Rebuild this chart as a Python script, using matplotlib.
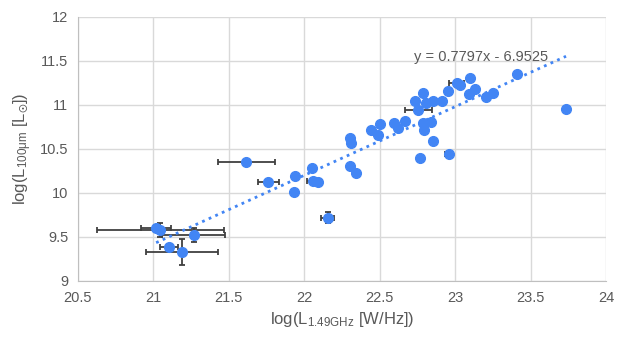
import numpy as np
import matplotlib.pyplot as plt

plt.rcParams['font.family'] = ['Liberation Sans', 'DejaVu Sans']
plt.rcParams['mathtext.fontset'] = 'custom'
plt.rcParams['mathtext.rm'] = 'Liberation Sans'
plt.rcParams['mathtext.it'] = 'Liberation Sans:italic'
plt.rcParams['mathtext.fallback'] = 'stixsans'

# radio luminosity vs far-IR luminosity (log), with x/y uncertainties
log_radio = [21.018, 21.046, 21.267, 21.106, 21.19, 21.616, 21.76, 21.94,
             21.93, 22.05, 22.06, 22.09, 22.154, 22.30, 22.31, 22.30, 22.34,
             22.44, 22.50, 22.49, 22.596, 22.618, 22.67, 22.735, 22.757,
             22.786, 22.81, 22.856, 22.916, 22.95, 22.786, 22.795, 22.84,
             22.856, 22.77, 22.956, 23.01, 23.03, 23.10, 23.095, 23.13,
             23.205, 23.25, 23.41, 23.735]
log_fir = [9.60, 9.58, 9.52, 9.39, 9.33, 10.35, 10.125, 10.19,
           10.01, 10.28, 10.14, 10.13, 9.72, 10.62, 10.57, 10.31, 10.23,
           10.72, 10.78, 10.66, 10.79, 10.735, 10.82, 11.04, 10.94,
           11.14, 11.02, 11.05, 11.05, 11.16, 10.80, 10.72, 10.81,
           10.59, 10.40, 10.44, 11.25, 11.23, 11.31, 11.13, 11.18,
           11.09, 11.14, 11.35, 10.95]
err_radio = [0.10, 0.42, 0.21, 0.06, 0.24, 0.19, 0.07, 0,
             0, 0, 0.045, 0.03, 0.044, 0, 0, 0, 0,
             0, 0, 0, 0, 0, 0.02, 0, 0.088,
             0, 0, 0.02, 0, 0, 0, 0, 0.02,
             0, 0, 0.02, 0.05, 0, 0, 0, 0,
             0, 0, 0, 0]
err_fir = [0.04, 0.08, 0.08, 0.03, 0.15, 0.02, 0.02, 0.02,
           0, 0, 0.02, 0.02, 0.06, 0, 0, 0, 0,
           0, 0, 0, 0, 0, 0.02, 0, 0.01,
           0, 0, 0.02, 0, 0, 0, 0, 0.02,
           0, 0, 0.02, 0.01, 0, 0, 0, 0,
           0, 0, 0, 0]

slope, intercept = 0.7797, -6.9525

blue = '#4285f4'
grey = '#595959'

fig = plt.figure(figsize=(6.31, 3.37), dpi=100)
ax = fig.add_axes([0.1236, 0.1662, 0.8368, 0.7834])

ax.errorbar(log_radio, log_fir, xerr=err_radio, yerr=err_fir, fmt='none',
            ecolor='#404040', elinewidth=1.3, capsize=2.5, capthick=1.3, zorder=2)
ax.plot(log_radio, log_fir, 'o', color=blue, markersize=7, zorder=3)

xs = np.array([min(log_radio), max(log_radio)])
ax.plot(xs, slope * xs + intercept, color=blue, lw=2,
        linestyle=(0, (1, 1.6)), zorder=2.5)
ax.text(23.172, 11.549, 'y = 0.7797x - 6.9525', color=grey, fontsize=10.5,
        ha='center', va='center')

ax.set_xlim(20.5, 24)
ax.set_ylim(9, 12)
ax.set_xticks(np.arange(20.5, 24.01, 0.5))
ax.set_yticks(np.arange(9, 12.01, 0.5))
ax.set_xticklabels(['20.5', '21', '21.5', '22', '22.5', '23', '23.5', '24'])
ax.set_yticklabels(['9', '9.5', '10', '10.5', '11', '11.5', '12'])
ax.tick_params(length=0, labelsize=10.5, labelcolor=grey, pad=7)
ax.grid(color='#d9d9d9', lw=1)
ax.set_axisbelow(True)
for side in ('top', 'right'):
    ax.spines[side].set_visible(False)
for side in ('left', 'bottom'):
    ax.spines[side].set_color('#bfbfbf')

ax.set_xlabel(r'log(L$_{\mathregular{1.49GHz}}$ [W/Hz])', fontsize=12,
              color=grey, labelpad=4)
ax.set_ylabel(r'log(L$_{\mathregular{100μm}}$ [L$_{☉}$])', fontsize=12,
              color=grey, labelpad=4)

fig.savefig('out.png', dpi=100)
